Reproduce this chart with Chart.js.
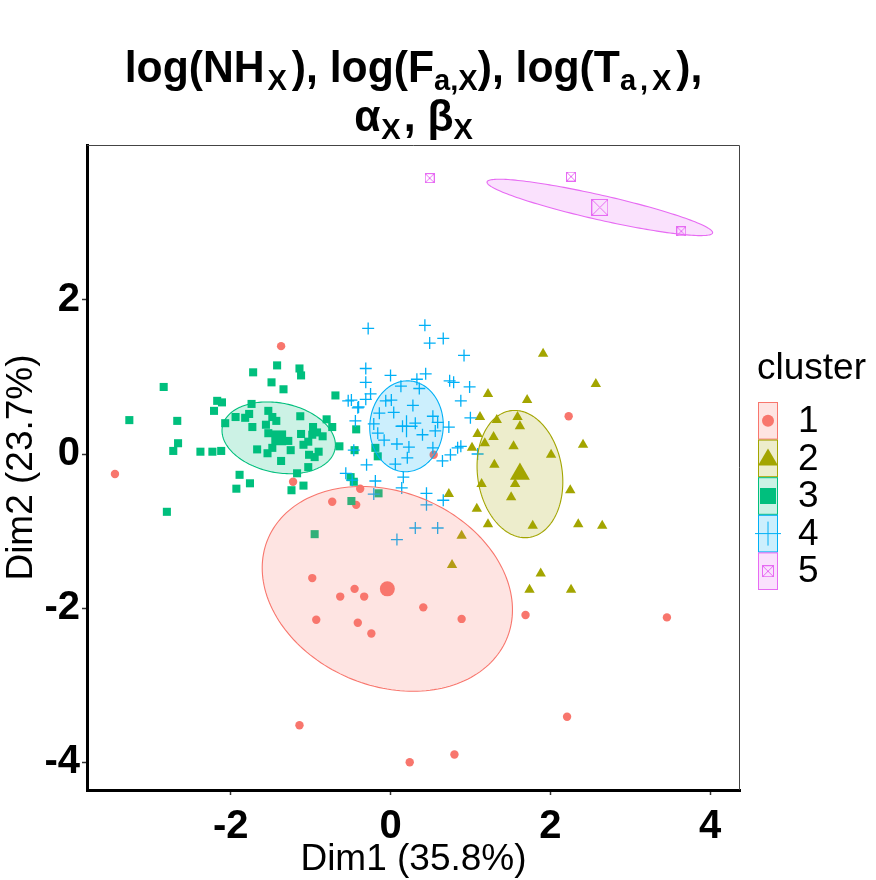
<!DOCTYPE html>
<html>
<head>
<meta charset="utf-8">
<script src="https://cdn.jsdelivr.net/npm/chart.js@4.4.1/dist/chart.umd.min.js"></script>
<style>
  html, body { margin: 0; padding: 0; background: #fff; }
  canvas { display: block; }
</style>
</head>
<body>
<canvas id="clusterPlot" width="876" height="880"></canvas>
<script>
const FONT = '"Liberation Sans", Arial, Helvetica, sans-serif';

const clusterNames = ['1', '2', '3', '4', '5'];
const clusterColors = ['#F8766D', '#A3A500', '#00BF7D', '#00B0F6', '#E76BF3'];

const xTicks = [-2, 0, 2, 4];
const yTicks = [-4, -2, 0, 2];

// cluster 1
const c1x = [-1.37, -3.45, -1.22, -0.73, -0.43, -0.38, 0.54, 2.23, -0.98, -0.45, -0.63, -0.33,
             0.41, 0.89, -0.93, -0.41, -0.24, 1.69, 3.46, -1.14, 0.24, 0.80, 2.21];
const c1y = [1.40, -0.26, -0.36, -0.62, -0.66, -0.45, -0.01, 0.49, -1.61, -1.75, -1.85, -1.85,
             -1.99, -2.14, -2.15, -2.19, -2.33, -2.09, -2.12, -3.52, -4.00, -3.90, -3.41];
// cluster 2
const c2x = [1.91, 2.57, 1.22, 1.71, 1.12, 1.33, 1.59, 1.62, 1.09, 1.29, 1.18, 1.54, 1.02, 2.41,
             2.01, 1.30, 1.56, 1.14, 2.25, 1.51, 0.73, 1.08, 1.22, 1.78, 2.35, 2.65, 0.89, 0.77,
             1.88, 1.74, 2.26];
const c2y = [1.30, 0.91, 0.78, 0.70, 0.48, 0.44, 0.48, 0.36, 0.26, 0.22, 0.14, 0.10, 0.08, 0.12,
             -0.01, -0.14, -0.39, -0.39, -0.47, -0.56, -0.52, -0.71, -0.91, -0.93, -0.91, -0.93,
             -1.06, -1.44, -1.55, -1.76, -1.76];
// cluster 3
const c3x = [-1.42, -1.72, -1.14, -1.12, -1.49, -1.34, -2.84, -0.69, -2.17, -2.11, -2.21, -1.74,
             -3.27, -2.67, -2.07, -1.94, -1.82, -1.77, -1.53, -1.48, -1.43, -1.56, -1.73, -1.13,
             -0.80, -0.73, -0.97, -0.92, -0.98, -0.85, -1.12, -0.43, -2.66, -2.72, -2.38, -2.23,
             -2.12, -1.67, -1.54, -1.25, -1.09, -1.03, -0.64, -1.02, -0.95, -0.90, -1.37, -1.03,
             -1.17, -1.89, -1.76, -1.93, -1.24, -1.09, -2.80, -0.49, -0.95, -0.45, -0.19, -0.16,
             -0.50, -0.46, -0.15, -1.53, -1.28, -1.48];
const c3y = [1.15, 1.06, 1.11, 1.02, 0.93, 0.84, 0.87, 0.76, 0.69, 0.67, 0.56, 0.65,
             0.44, 0.43, 0.40, 0.48, 0.47, 0.52, 0.56, 0.48, 0.43, 0.38, 0.35, 0.49,
             0.45, 0.35, 0.35, 0.28, 0.25, 0.23, 0.26, 0.32, 0.14, 0.04, 0.03, 0.03,
             0.04, 0.06, 0.01, 0.05, 0.12, 0.16, 0.10, -0.01, -0.04, 0.03, -0.09, -0.17,
             -0.25, -0.27, -0.38, -0.45, -0.47, -0.41, -0.75, -0.61, -1.04, 0.05, 0.08, -0.03,
             -0.30, -0.36, -0.51, 0.27, 0.17, 0.08];
// cluster 4
const c4x = [-0.28, 0.43, 0.49, 0.66, 0.92, -0.31, -0.31, 0.00, 0.44, 0.33, 0.36, 0.13, 0.74,
             0.79, 0.99, -0.25, -0.49, -0.41, -0.31, -0.06, 0.01, 0.28, 0.04, -0.14, 0.88, 1.00,
             0.53, -0.44, -0.21, 0.31, 0.59, 0.73, 0.15, -0.16, 0.40, 0.56, -0.08, 0.08, 0.23,
             0.53, 0.88, 0.84, 1.09, 0.75, 0.21, 0.65, 0.06, -0.30, -0.56, 0.16, -0.19, 0.14,
             -0.21, 0.45, 0.45, 0.66, 0.31, 0.59, 0.08, -0.53, -0.40, -0.46, -0.48];
const c4y = [1.63, 1.67, 1.44, 1.50, 1.28, 1.11, 0.93, 1.02, 1.04, 0.97, 0.85, 0.88, 0.95,
             0.93, 0.87, 0.78, 0.70, 0.60, 0.71, 0.69, 0.70, 0.63, 0.54, 0.53, 0.69, 0.47,
             0.49, 0.43, 0.39, 0.40, 0.41, 0.35, 0.36, 0.27, 0.25, 0.30, 0.18, 0.13, 0.09,
             0.08, 0.10, 0.08, 0.00, -0.01, -0.05, -0.09, -0.13, -0.14, -0.25, -0.30, -0.35, -0.44,
             -0.52, -0.51, -0.66, -0.60, -0.96, -0.96, -1.11, 0.69, 0.61, 0.05, -0.34];
// cluster 5
const c5x = [0.49, 2.26, 3.64];
const c5y = [3.58, 3.60, 2.89];

const centerX = [-0.04, 1.62, -1.40, 0.20, 2.62];
const centerY = [-1.75, -0.26, 0.21, 0.36, 3.20];

// ellipse semi-axes and tilt (degrees), in data units
const ellipseA = [1.63, 0.83, 0.72, 0.59, 1.45];
const ellipseB = [1.25, 0.53, 0.45, 0.46, 0.16];
const ellipseAngle = [-25.5, -82.3, -12.4, 87, -13.2];

function toPoints(xs, ys) {
  return xs.map((x, i) => ({ x: x, y: ys[i] }));
}

function squareCross(size, color) {
  const c = document.createElement('canvas');
  c.width = size;
  c.height = size;
  const g = c.getContext('2d');
  g.strokeStyle = color;
  g.lineWidth = 1;
  g.strokeRect(0.5, 0.5, size - 1, size - 1);
  g.beginPath();
  g.moveTo(0.5, 0.5); g.lineTo(size - 0.5, size - 0.5);
  g.moveTo(size - 0.5, 0.5); g.lineTo(0.5, size - 0.5);
  g.stroke();
  return c;
}

function withAlpha(hex, a) {
  const n = parseInt(hex.slice(1), 16);
  return 'rgba(' + (n >> 16) + ',' + ((n >> 8) & 255) + ',' + (n & 255) + ',' + a + ')';
}

const pointSets = [[c1x, c1y], [c2x, c2y], [c3x, c3y], [c4x, c4y], [c5x, c5y]];
const pointStyles = ['circle', 'triangle', 'rect', 'cross', squareCross(10, clusterColors[4])];
const pointSizes = [4.2, 6, 5.7, 6, 5];
const centerStyles = ['circle', 'triangle', 'rect', 'cross', squareCross(17, clusterColors[4])];
const centerSizes = [7.5, 11.5, 10.5, 11, 8];

const datasets = [];
pointSets.forEach((s, i) => {
  datasets.push({
    label: 'cluster ' + clusterNames[i],
    data: toPoints(s[0], s[1]),
    pointStyle: pointStyles[i],
    pointRadius: pointSizes[i],
    backgroundColor: clusterColors[i],
    borderColor: clusterColors[i],
    borderWidth: i === 3 ? 1.3 : 0,
    order: 10 - i
  });
});
pointSets.forEach((s, i) => {
  datasets.push({
    label: 'center ' + clusterNames[i],
    data: [{ x: centerX[i], y: centerY[i] }],
    pointStyle: centerStyles[i],
    pointRadius: centerSizes[i],
    backgroundColor: clusterColors[i],
    borderColor: clusterColors[i],
    borderWidth: i === 3 ? 1.3 : 0,
    order: -i
  });
});

// parts: [text, isSubscript, gapAfter]; drawn slightly condensed like the original
function drawRich(ctx, parts, cx, baseline) {
  const mainFont = 'bold 44px ' + FONT;
  const subFont = 'bold 30px ' + FONT;
  const squeeze = 0.97;
  let total = 0;
  parts.forEach(p => {
    ctx.font = p[1] ? subFont : mainFont;
    total += ctx.measureText(p[0]).width + p[2];
  });
  ctx.save();
  ctx.translate(cx - total * squeeze / 2, baseline);
  ctx.scale(squeeze, 1);
  ctx.textAlign = 'left';
  ctx.textBaseline = 'alphabetic';
  let x = 0;
  parts.forEach(p => {
    ctx.font = p[1] ? subFont : mainFont;
    ctx.fillText(p[0], x, p[1] ? 8 : 0);
    x += ctx.measureText(p[0]).width + p[2];
  });
  ctx.restore();
}

const plotDecor = {
  id: 'plotDecor',
  afterDatasetsDraw(chart) {
    const ctx = chart.ctx, xs = chart.scales.x, ys = chart.scales.y, area = chart.chartArea;
    ctx.save();
    ctx.beginPath();
    ctx.rect(area.left, area.top, area.right - area.left, area.bottom - area.top);
    ctx.clip();
    for (let i = 0; i < centerX.length; i++) {
      const phi = ellipseAngle[i] * Math.PI / 180;
      ctx.beginPath();
      for (let k = 0; k <= 180; k++) {
        const t = k / 180 * 2 * Math.PI;
        const dx = ellipseA[i] * Math.cos(t) * Math.cos(phi) - ellipseB[i] * Math.sin(t) * Math.sin(phi);
        const dy = ellipseA[i] * Math.cos(t) * Math.sin(phi) + ellipseB[i] * Math.sin(t) * Math.cos(phi);
        const px = xs.getPixelForValue(centerX[i] + dx);
        const py = ys.getPixelForValue(centerY[i] + dy);
        if (k === 0) ctx.moveTo(px, py); else ctx.lineTo(px, py);
      }
      ctx.closePath();
      ctx.fillStyle = withAlpha(clusterColors[i], 0.2);
      ctx.fill();
      ctx.strokeStyle = clusterColors[i];
      ctx.lineWidth = 1.1;
      ctx.stroke();
    }
    ctx.restore();
  },
  afterDraw(chart) {
    const ctx = chart.ctx, area = chart.chartArea;
    ctx.save();
    // thin top and right frame
    ctx.strokeStyle = '#444';
    ctx.lineWidth = 1;
    ctx.beginPath();
    ctx.moveTo(area.left, area.top + 0.5);
    ctx.lineTo(area.right - 0.5, area.top + 0.5);
    ctx.lineTo(area.right - 0.5, area.bottom);
    ctx.stroke();

    ctx.fillStyle = '#000';
    const cx = (area.left + area.right) / 2;
    drawRich(ctx, [['log(NH', 0, 3], ['X', 1, 5], ['), log(F', 0, 0], ['a,X', 1, 0],
                   ['), log(T', 0, 0], ['a', 1, 4], [',', 1, 4], ['X', 1, 5], ['),', 0, 0]], cx, 82);
    drawRich(ctx, [['\u03b1', 0, 1], ['X', 1, 3], [', \u03b2', 0, 0], ['X', 1, 0]], cx, 131);

    // axis titles
    ctx.font = '37px ' + FONT;
    ctx.textAlign = 'center';
    ctx.textBaseline = 'alphabetic';
    ctx.fillText('Dim1 (35.8%)', cx, 870);
    ctx.save();
    ctx.translate(32, (area.top + area.bottom) / 2);
    ctx.rotate(-Math.PI / 2);
    ctx.fillText('Dim2 (23.7%)', 0, 0);
    ctx.restore();

    // legend
    ctx.textAlign = 'left';
    ctx.font = '37px ' + FONT;
    ctx.fillText('cluster', 757, 379);
    const keyX = 758, keyW = 20, keyH = 37.6, keyTop = 402;
    for (let i = 0; i < clusterNames.length; i++) {
      const top = keyTop + i * keyH;
      const mx = keyX + keyW / 2, my = top + keyH / 2;
      const col = clusterColors[i];
      ctx.fillStyle = withAlpha(col, 0.2);
      ctx.fillRect(keyX, top, keyW, keyH);
      ctx.strokeStyle = col;
      ctx.lineWidth = 1;
      ctx.strokeRect(keyX + 0.5, top + 0.5, keyW - 1, keyH - 1);
      ctx.fillStyle = col;
      ctx.beginPath();
      if (i === 0) {
        ctx.arc(mx, my, 6, 0, 2 * Math.PI);
        ctx.fill();
      } else if (i === 1) {
        ctx.moveTo(mx, my - 10);
        ctx.lineTo(mx + 10, my + 7);
        ctx.lineTo(mx - 10, my + 7);
        ctx.closePath();
        ctx.fill();
      } else if (i === 2) {
        ctx.fillRect(mx - 8, my - 8, 16, 16);
      } else if (i === 3) {
        ctx.lineWidth = 1;
        ctx.moveTo(keyX - 3, my); ctx.lineTo(keyX + keyW + 3, my);
        ctx.moveTo(mx, my - 12); ctx.lineTo(mx, my + 12);
        ctx.stroke();
      } else {
        ctx.drawImage(squareCross(12, col), mx - 6, my - 6);
      }
      ctx.fillStyle = '#000';
      ctx.font = '37px ' + FONT;
      ctx.textBaseline = 'middle';
      ctx.fillText(clusterNames[i], 798, my + 1);
      ctx.textBaseline = 'alphabetic';
    }
    ctx.restore();
  }
};

const tickFont = { family: FONT, size: 40, weight: 'bold' };

new Chart(document.getElementById('clusterPlot'), {
  type: 'scatter',
  data: { datasets: datasets },
  options: {
    responsive: false,
    animation: false,
    devicePixelRatio: 1,
    events: [],
    layout: { padding: { top: 145, right: 136, left: 0, bottom: 0 } },
    plugins: {
      legend: { display: false },
      tooltip: { enabled: false },
      title: { display: false }
    },
    scales: {
      x: {
        type: 'linear',
        min: -3.80,
        max: 4.375,
        afterBuildTicks: s => { s.ticks = xTicks.map(v => ({ value: v })); },
        afterFit: s => { s.height = 90; },
        grid: { drawOnChartArea: false, drawTicks: true, tickLength: 5, tickWidth: 1.5, tickColor: '#333' },
        border: { display: true, color: '#000', width: 3 },
        ticks: { color: '#000', font: tickFont, padding: 8, maxRotation: 0, autoSkip: false }
      },
      y: {
        type: 'linear',
        min: -4.36,
        max: 4.01,
        afterBuildTicks: s => { s.ticks = yTicks.map(v => ({ value: v })); },
        afterFit: s => { s.width = 87; },
        grid: { drawOnChartArea: false, drawTicks: true, tickLength: 5, tickWidth: 1.5, tickColor: '#333' },
        border: { display: true, color: '#000', width: 3 },
        ticks: { color: '#000', font: tickFont, padding: 2, autoSkip: false }
      }
    }
  },
  plugins: [plotDecor]
});
</script>
</body>
</html>
